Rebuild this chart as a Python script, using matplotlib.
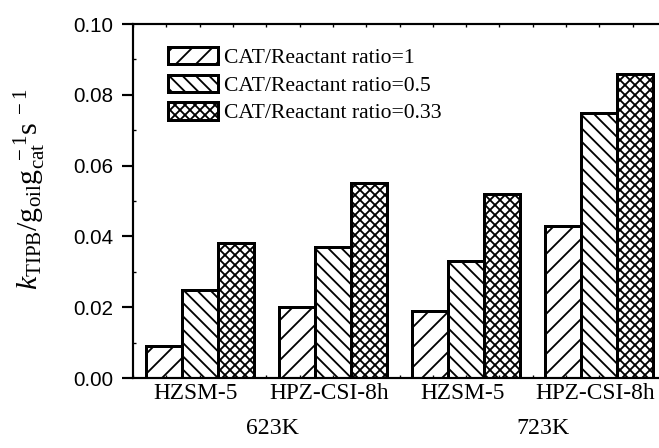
import matplotlib

matplotlib.use("Agg")
import matplotlib.pyplot as plt
import matplotlib.transforms as mtransforms
import numpy as np
from matplotlib.ticker import MultipleLocator

# data
catalysts = ["HZSM-5", "HPZ-CSI-8h", "HZSM-5", "HPZ-CSI-8h"]
temps = ["623K", "723K"]
series_labels = ["CAT/Reactant ratio=1", "CAT/Reactant ratio=0.5", "CAT/Reactant ratio=0.33"]
ratio_1 = [0.009, 0.020, 0.019, 0.043]
ratio_05 = [0.025, 0.037, 0.033, 0.075]
ratio_033 = [0.038, 0.055, 0.052, 0.086]
hatches = ["//", "\\\\\\", "xxxx"]

plt.rcParams["hatch.linewidth"] = 1.1
plt.rcParams["mathtext.fontset"] = "custom"
plt.rcParams["mathtext.rm"] = "Liberation Serif"
plt.rcParams["mathtext.it"] = "Liberation Serif:italic"
plt.rcParams["mathtext.bf"] = "Liberation Serif:bold"

DPI = 120
fig = plt.figure(figsize=(659 / DPI, 448 / DPI), dpi=DPI)
ax = fig.add_axes([133 / 659, 1 - 378 / 448, 533 / 659, 354 / 448])

x = np.arange(len(catalysts))
w = 0.27
for i, (vals, lab, h) in enumerate(zip([ratio_1, ratio_05, ratio_033], series_labels, hatches)):
    ax.bar(x + (i - 1) * w, vals, width=w, facecolor="white", edgecolor="black",
           linewidth=1.8, hatch=h, label=lab)

ax.set_xlim(-0.5, 3.5)
ax.set_ylim(0, 0.10)

for side in ["top", "bottom", "left"]:
    ax.spines[side].set_linewidth(1.3)
ax.spines["right"].set_visible(False)

ax.yaxis.set_major_locator(MultipleLocator(0.02))
ax.yaxis.set_minor_locator(MultipleLocator(0.01))
ax.set_yticklabels([f"{v:.2f}" for v in ax.get_yticks()], family="Liberation Sans", fontsize=12.3)
ax.tick_params(axis="y", which="major", direction="out", length=6.5, width=1.3, pad=5.2)
ax.tick_params(axis="y", which="minor", direction="in", length=2, width=0.8)

ax.set_xticks(x)
ax.set_xticklabels(catalysts, family="Liberation Serif", fontsize=14)
ax.xaxis.set_minor_locator(MultipleLocator(0.25))
ax.tick_params(axis="x", which="both", direction="in", length=2, width=0.8,
               top=True, pad=3)
# labels sit a few pixels left of the group centres in the original
shift = mtransforms.ScaledTranslation(-4 / DPI, 0, fig.dpi_scale_trans)
for lbl in ax.get_xticklabels():
    lbl.set_transform(lbl.get_transform() + shift)

for xt, t in zip([0.55, 2.58], temps):
    ax.text(xt, -0.0142, t, transform=ax.transData, ha="center", va="center",
            family="Liberation Serif", fontsize=14.3)

ax.set_ylabel(r"$k_{\mathrm{TIPB}}/\mathrm{g}_{\mathrm{oil}}\mathrm{g}_{\mathrm{cat}}^{\ -1}\mathrm{s}^{\ -1}$",
              fontsize=18)
ax.yaxis.set_label_coords(-0.16, 0.534)

leg = ax.legend(loc="upper left", bbox_to_anchor=(168 / 659, 1 - 47 / 448),
                bbox_transform=fig.transFigure, frameon=False, borderpad=0,
                borderaxespad=0, handlelength=2.3, handleheight=0.85,
                handletextpad=0.3, labelspacing=0.3,
                prop={"family": "Liberation Serif", "size": 13})

fig.savefig("out.png", dpi=DPI)
